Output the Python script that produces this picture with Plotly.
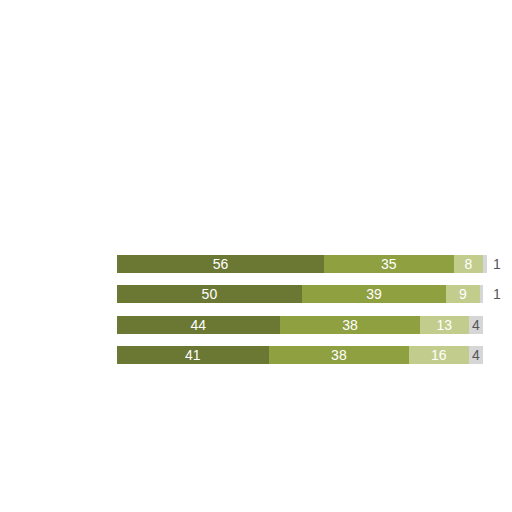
import plotly.graph_objects as go

rows = ["A", "B", "C", "D"]
seg1 = [56, 50, 44, 41]
seg2 = [35, 39, 38, 38]
seg3 = [8, 9, 13, 16]
seg4 = [1, 1, 4, 4]

colors = ["#6b7834", "#8fa041", "#c2cd8d", "#d6d6d6"]
text_colors = ["white", "white", "white", "#555555"]
FONT = "Liberation Sans"

fig = go.Figure()
for i, vals in enumerate([seg1, seg2, seg3, seg4]):
    texts = [str(v) for v in vals]
    if i == 3:
        texts = [str(v) if v >= 2 else "" for v in vals]
    fig.add_trace(go.Bar(
        y=rows, x=vals, orientation="h",
        marker=dict(color=colors[i], line=dict(width=0)),
        text=texts,
        textposition="inside",
        textangle=0,
        insidetextanchor="middle",
        textfont=dict(color=text_colors[i], size=14, family=FONT),
        cliponaxis=False,
        constraintext="none",
        hoverinfo="skip",
    ))

# small last-segment values shown outside the bar end
for r, v in zip(rows, seg4):
    if v < 2:
        fig.add_annotation(x=100, y=r, text=str(v), showarrow=False,
                           xanchor="left", xshift=4,
                           font=dict(color="#555555", size=14, family=FONT))

fig.update_layout(
    barmode="stack",
    width=512, height=512,
    margin=dict(l=109, r=33, t=241, b=150),
    paper_bgcolor="white", plot_bgcolor="white",
    showlegend=False,
    bargap=0.4,
    xaxis=dict(range=[0, 100], visible=False, fixedrange=True),
    yaxis=dict(autorange="reversed", visible=False, fixedrange=True),
)

fig.write_html("out.html")
